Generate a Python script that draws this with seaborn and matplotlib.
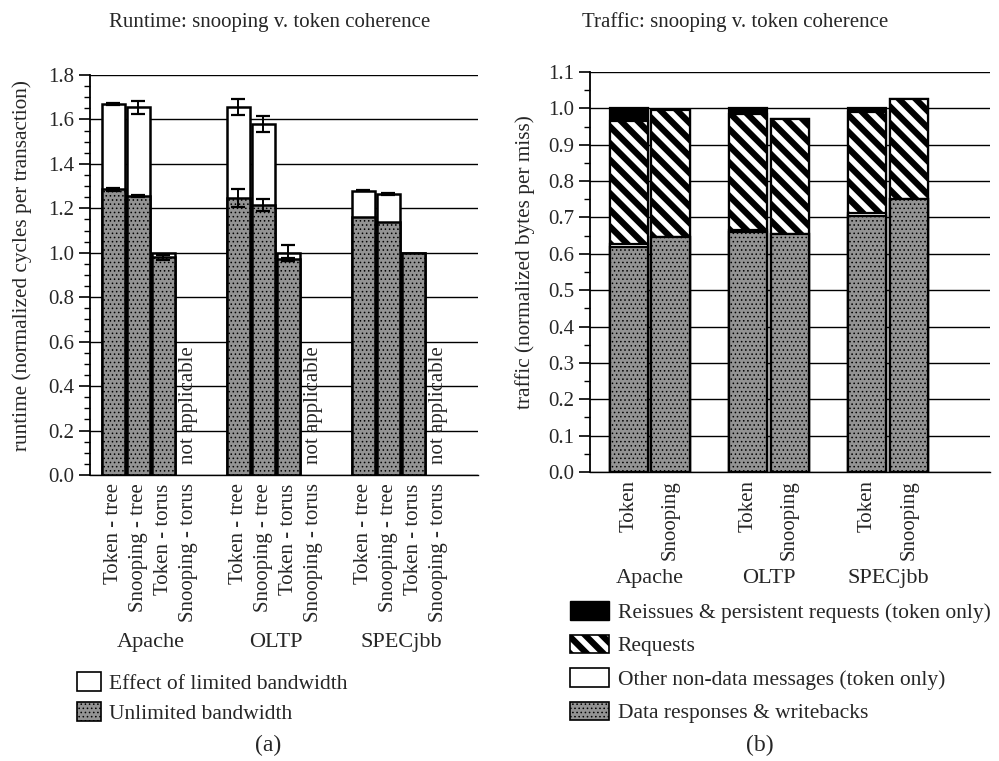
import numpy as np
import pandas as pd
import matplotlib
matplotlib.use("Agg")
import matplotlib.pyplot as plt
import matplotlib.patches as mpatches
import matplotlib.transforms as mtransforms
import seaborn as sns

# ---- data ----
benchmarks = ["Apache", "OLTP", "SPECjbb"]
runtime_configs = ["Token - tree", "Snooping - tree", "Token - torus", "Snooping - torus"]
# only the first three configs have values; snooping-torus is not applicable
runtime_total = [1.67, 1.655, 1.0,  1.655, 1.58, 1.0,  1.28, 1.265, 1.0]
runtime_total_err = [0.004, 0.03, 0.0,  0.035, 0.035, 0.035,  0.003, 0.003, 0.0]
runtime_unlimited = [1.285, 1.255, 0.98,  1.245, 1.215, 0.97,  1.16, 1.14, 1.0]
runtime_unlimited_err = [0.008, 0.003, 0.012,  0.04, 0.025, 0.008,  0.0, 0.0, 0.0]

traffic_configs = ["Token", "Snooping"]
traffic_data = [0.62, 0.645,  0.66, 0.655,  0.705, 0.75]
traffic_other = [0.007, 0.0,  0.006, 0.0,  0.007, 0.0]
traffic_requests = [0.338, 0.35,  0.319, 0.315,  0.278, 0.275]
traffic_reissues = [0.035, 0.0,  0.015, 0.0,  0.01, 0.0]

sns.set_style("white")
plt.rcParams["font.family"] = ["Liberation Serif", "DejaVu Serif"]
plt.rcParams["hatch.linewidth"] = 0.6

FS = 15
GRAY = "#939393"
STRIPE_LW = 4.5

fig = plt.figure(figsize=(9.99, 7.61), dpi=100)
ax1 = fig.add_axes([0.090, 0.3758, 0.3885, 0.5256])
ax2 = fig.add_axes([0.5906, 0.3798, 0.4004, 0.5256])


def style_axis(ax, ymax, major, minor):
    ax.set_ylim(0, ymax)
    ax.set_yticks(np.arange(0, ymax + 1e-9, major))
    ax.set_yticks(np.arange(0, ymax + 1e-9, minor), minor=True)
    ax.yaxis.grid(True, which="major", color="black", linewidth=1.0)
    ax.xaxis.grid(False)
    ax.set_axisbelow(True)
    for s in ["top", "right"]:
        ax.spines[s].set_visible(False)
    ax.spines["left"].set_color("black")
    ax.spines["left"].set_linewidth(1.3)
    ax.spines["bottom"].set_color("black")
    ax.spines["bottom"].set_linewidth(1.0)
    ax.tick_params(axis="y", which="major", length=8, width=1.2, color="black",
                   direction="out", labelsize=FS, left=True)
    ax.tick_params(axis="y", which="minor", length=4, width=1.0, color="black",
                   direction="out", left=True)
    ax.tick_params(axis="x", length=0, labelsize=FS, pad=6, labelrotation=90)
    ax.set_xlabel("")
    ax.set_ylabel("")


# ---- (a) runtime ----
rt_x = []
rt_labels_x = []
for g in range(len(benchmarks)):
    for i in range(len(runtime_configs)):
        rt_labels_x.append(g * 5 + i)
        if i < 3:
            rt_x.append(g * 5 + i)
rt_x = np.array(rt_x, dtype=float)

df_rt = pd.DataFrame({"x": rt_x, "total": runtime_total, "unlimited": runtime_unlimited})

sns.barplot(data=df_rt, x="x", y="total", native_scale=True, color="white",
            saturation=1, width=0.9, edgecolor="black", linewidth=1.8,
            errorbar=None, ax=ax1)
n0 = len(ax1.patches)
sns.barplot(data=df_rt, x="x", y="unlimited", native_scale=True, color=GRAY,
            saturation=1, width=0.9, edgecolor="black", linewidth=1.8,
            errorbar=None, ax=ax1)
for p in ax1.patches[n0:]:
    p.set_hatch("....")

tot_err = np.array(runtime_total_err)
m = tot_err > 0
ax1.errorbar(rt_x[m], np.array(runtime_total)[m], yerr=tot_err[m], fmt="none",
             ecolor="black", elinewidth=1.4, capsize=5, capthick=1.6, zorder=5)
un_err = np.array(runtime_unlimited_err)
m = un_err > 0
ax1.errorbar(rt_x[m], np.array(runtime_unlimited)[m], yerr=un_err[m], fmt="none",
             ecolor="black", elinewidth=1.4, capsize=5, capthick=1.6, zorder=5)

style_axis(ax1, 1.8, 0.2, 0.05)
ax1.yaxis.set_major_formatter(plt.FormatStrFormatter("%.1f"))
ax1.set_xticks(rt_labels_x)
ax1.set_xticklabels(runtime_configs * len(benchmarks), va="top")
ax1.set_xlim(-0.94, 14.58)

for g in range(len(benchmarks)):
    ax1.text(g * 5 + 3, 0.05, "not applicable", rotation=90, ha="center",
             va="bottom", fontsize=FS, zorder=6)

tr1 = mtransforms.blended_transform_factory(ax1.transData, ax1.transAxes)
for g, name in enumerate(benchmarks):
    ax1.text(g * 5 + 1.5, -0.4175, name, transform=tr1, ha="center",
             va="center", fontsize=FS + 1)

# ---- (b) traffic ----
tf_x = []
for g in range(len(benchmarks)):
    for i in range(len(traffic_configs)):
        tf_x.append(g * 2.87 + i)
tf_x = np.array(tf_x)

data_top = np.array(traffic_data)
other_top = data_top + np.array(traffic_other)
req_top = other_top + np.array(traffic_requests)
reis_top = req_top + np.array(traffic_reissues)
df_tf = pd.DataFrame({"x": tf_x, "reissues": reis_top, "requests": req_top,
                      "other": other_top, "data": data_top})

layers = [("reissues", "black", None), ("requests", "white", "\\\\"),
          ("other", "white", None), ("data", GRAY, "....")]
for col, fc, hatch in layers:
    n0 = len(ax2.patches)
    lw_h = STRIPE_LW if hatch == "\\\\" else 0.6
    with plt.rc_context({"hatch.linewidth": lw_h}):
        sns.barplot(data=df_tf, x="x", y=col, native_scale=True, color=fc,
                    saturation=1, width=0.92, edgecolor="black", linewidth=1.6,
                    errorbar=None, ax=ax2)
    for p in ax2.patches[n0:]:
        if hatch:
            p.set_hatch(hatch)
            if hasattr(p, "set_hatch_linewidth"):
                p.set_hatch_linewidth(lw_h)

style_axis(ax2, 1.1, 0.1, 0.05)
ax2.yaxis.set_major_formatter(plt.FormatStrFormatter("%.1f"))
ax2.set_xticks(tf_x)
ax2.set_xticklabels(traffic_configs * len(benchmarks), va="top")
ax2.set_xlim(-0.94, 8.7)

tr2 = mtransforms.blended_transform_factory(ax2.transData, ax2.transAxes)
for g, name in enumerate(benchmarks):
    ax2.text(g * 2.87 + 0.5, -0.2675, name, transform=tr2, ha="center",
             va="center", fontsize=FS + 1)

# ---- titles, labels ----
fig.text(0.270, 0.971, "Runtime: snooping v. token coherence", ha="center",
         va="center", fontsize=FS)
fig.text(0.736, 0.971, "Traffic: snooping v. token coherence", ha="center",
         va="center", fontsize=FS)
fig.text(0.022, 0.6505, "runtime (normalized cycles per transaction)",
         rotation=90, ha="center", va="center", fontsize=FS + 0.3)
fig.text(0.526, 0.6557, "traffic (normalized bytes per miss)",
         rotation=90, ha="center", va="center", fontsize=FS + 0.3)
fig.text(0.268, 0.021, "(a)", ha="center", va="center", fontsize=FS + 2)
fig.text(0.761, 0.021, "(b)", ha="center", va="center", fontsize=FS + 2)

# ---- legends ----
h_a = [mpatches.Patch(facecolor="white", edgecolor="black", linewidth=1.2,
                      label="Effect of limited bandwidth"),
       mpatches.Patch(facecolor=GRAY, edgecolor="black", linewidth=1.2,
                      hatch="....", label="Unlimited bandwidth")]
fig.legend(handles=h_a, loc="upper left", bbox_to_anchor=(0.077, 0.117),
           bbox_transform=fig.transFigure, frameon=False, fontsize=FS + 0.5,
           handlelength=1.1, handleheight=0.95, handletextpad=0.4,
           labelspacing=0.4, borderpad=0, borderaxespad=0)

h_b = [mpatches.Patch(facecolor="black", edgecolor="black",
                      label="Reissues & persistent requests (token only)"),
       mpatches.Patch(facecolor="white", edgecolor="black", linewidth=1.2,
                      hatch="\\\\", label="Requests"),
       mpatches.Patch(facecolor="white", edgecolor="black", linewidth=1.2,
                      label="Other non-data messages (token only)"),
       mpatches.Patch(facecolor=GRAY, edgecolor="black", linewidth=1.2,
                      hatch="....", label="Data responses & writebacks")]
leg_b = fig.legend(handles=h_b, loc="upper left", bbox_to_anchor=(0.571, 0.210),
                   bbox_transform=fig.transFigure, frameon=False, fontsize=FS + 0.5,
                   handlelength=1.8, handleheight=0.95, handletextpad=0.4,
                   labelspacing=0.55, borderpad=0, borderaxespad=0)
req_handle = leg_b.legend_handles[1]
if hasattr(req_handle, "set_hatch_linewidth"):
    req_handle.set_hatch_linewidth(STRIPE_LW)

fig.savefig("out.png", dpi=100)
